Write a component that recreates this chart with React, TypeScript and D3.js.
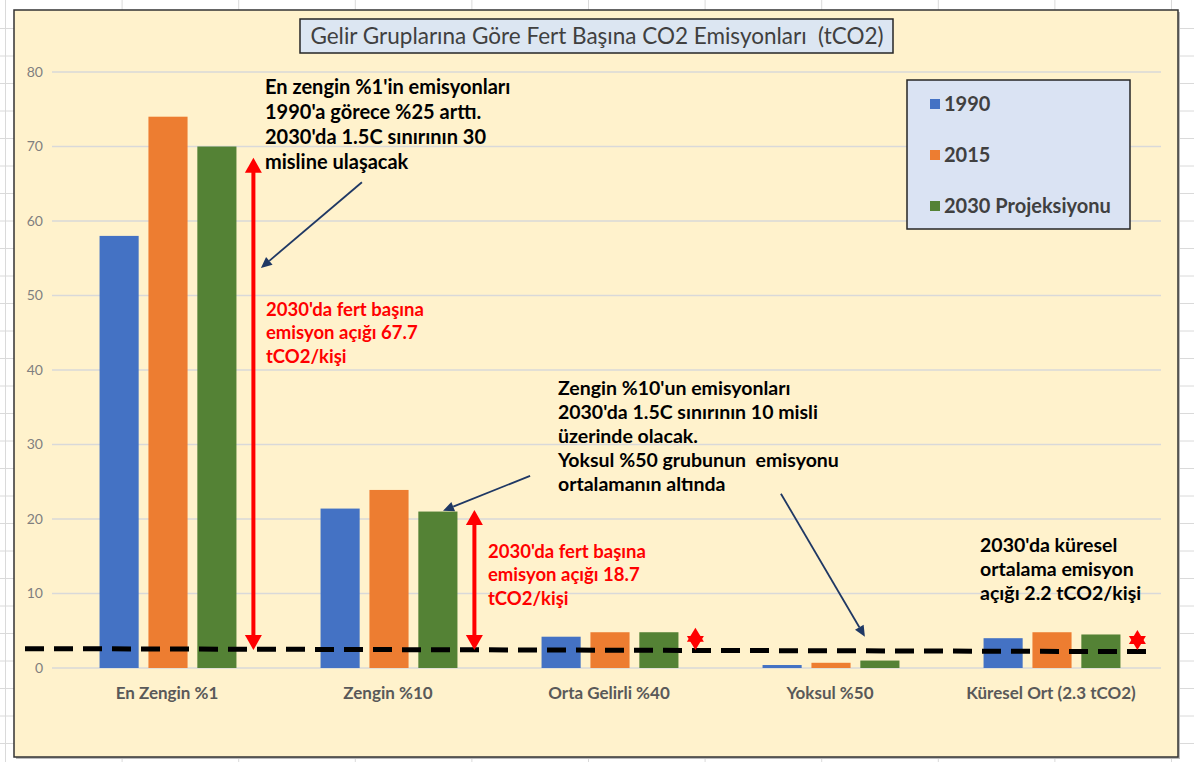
import { useEffect, useRef } from 'react';
import * as d3 from 'd3';

const categories = ['En Zengin %1', 'Zengin %10', 'Orta Gelirli %40', 'Yoksul %50', 'Küresel Ort (2.3 tCO2)'];
const seriesNames = ['1990', '2015', '2030 Projeksiyonu'];
const values1990 = [58, 21.4, 4.2, 0.4, 4.0];
const values2015 = [74, 23.9, 4.8, 0.7, 4.8];
const values2030 = [70, 21, 4.8, 1.0, 4.5];
const yTicks = [0, 10, 20, 30, 40, 50, 60, 70, 80];
const limitValue = 2.3; // 1.5C siniri (kuresel ortalama)

const titleText = 'Gelir Gruplarına Göre Fert Başına CO2 Emisyonları  (tCO2)';
const note1 = ["En zengin %1'in emisyonları", "1990'a görece %25 arttı.", "2030'da 1.5C sınırının 30", 'misline ulaşacak'];
const gapNote1 = ["2030'da fert başına", 'emisyon açığı 67.7', 'tCO2/kişi'];
const gapNote2 = ["2030'da fert başına", 'emisyon açığı 18.7', 'tCO2/kişi'];
const note2 = ["Zengin %10'un emisyonları", "2030'da 1.5C sınırının 10 misli", 'üzerinde olacak.', 'Yoksul %50 grubunun  emisyonu', 'ortalamanın altında'];
const note3 = ["2030'da küresel", 'ortalama emisyon', 'açığı 2.2 tCO2/kişi'];

// gap arrows: category index -> top value of the arrow
const gapArrows = [
	{ cat: 0, top: 68.5 },
	{ cat: 1, top: 21.2 },
	{ cat: 2, top: 5.4 },
	{ cat: 4, top: 5.1 },
];

const colors = ['#4472c4', '#ed7d31', '#548235'];
const font = 'Lato, "Open Sans", sans-serif';

const App = () => {
	const svgRef = useRef<SVGSVGElement>(null);
	const W = 1194;
	const H = 762;

	useEffect(() => {
		document.body.style.margin = '0';
		const svg = d3.select(svgRef.current);
		svg.selectAll('*').remove();

		// spreadsheet background grid
		svg.append('rect').attr('width', W).attr('height', H).attr('fill', '#ffffff');
		const bg = svg.append('g').attr('stroke', '#dadada').attr('stroke-width', 1);
		for (let x = 5.5; x < W; x += 116.6) bg.append('line').attr('x1', x).attr('x2', x).attr('y1', 0).attr('y2', H);
		for (let y = 28.5; y < H; y += 27.5) bg.append('line').attr('x1', 0).attr('x2', W).attr('y1', y).attr('y2', y);

		// chart area
		svg.append('rect').attr('x', 16).attr('y', 12).attr('width', 1164).attr('height', 747).attr('fill', '#bbbbbb');
		svg
			.append('rect')
			.attr('x', 14)
			.attr('y', 10)
			.attr('width', 1164)
			.attr('height', 747)
			.attr('fill', '#fff2cc')
			.attr('stroke', '#333333')
			.attr('stroke-width', 1.5);

		const y = d3.scaleLinear().domain([0, 80]).range([668, 72]);
		const x0 = d3.scaleBand().domain(categories).range([54.5, 1159.5]).padding(0);
		const x1 = d3.scaleBand().domain(seriesNames).range([3, x0.bandwidth() + 3]).paddingInner(0.2).paddingOuter(0.86);
		const xi = d3.scaleLinear().domain([0, categories.length]).range([54.5, 1159.5]);

		// gridlines
		svg
			.append('g')
			.selectAll('line')
			.data(yTicks)
			.enter()
			.append('line')
			.attr('x1', 52)
			.attr('x2', 1161)
			.attr('y1', (d) => y(d))
			.attr('y2', (d) => y(d))
			.attr('stroke', '#d9d9d9')
			.attr('stroke-width', 1.5);

		svg
			.append('g')
			.selectAll('text')
			.data(yTicks)
			.enter()
			.append('text')
			.attr('x', 43)
			.attr('y', (d) => y(d))
			.attr('dy', '0.35em')
			.attr('text-anchor', 'end')
			.attr('font-family', font)
			.attr('font-size', 14)
			.attr('fill', '#7f7f7f')
			.text((d) => d);

		// bars
		const series = [values1990, values2015, values2030];
		series.forEach((vals, si) => {
			svg
				.append('g')
				.attr('fill', colors[si])
				.selectAll('rect')
				.data(vals)
				.enter()
				.append('rect')
				.attr('x', (d, i) => x0(categories[i])! + x1(seriesNames[si])!)
				.attr('y', (d) => y(d))
				.attr('width', x1.bandwidth())
				.attr('height', (d) => y(0) - y(d));
		});

		// category labels
		svg
			.append('g')
			.selectAll('text')
			.data(categories)
			.enter()
			.append('text')
			.attr('x', (d) => x0(d)! + x0.bandwidth() / 2 + 2)
			.attr('y', 699)
			.attr('text-anchor', 'middle')
			.attr('font-family', font)
			.attr('font-size', 17)
			.attr('font-weight', 'bold')
			.attr('fill', '#595959')
			.text((d) => d);

		// limit line
		svg
			.append('line')
			.attr('x1', 25)
			.attr('x2', 1146)
			.attr('y1', y(limitValue + 0.3))
			.attr('y2', y(limitValue - 0.1))
			.attr('stroke', '#000')
			.attr('stroke-width', 5)
			.attr('stroke-dasharray', '19 10');

		// red gap arrows
		const red = '#ff0000';
		gapArrows.forEach((a) => {
			const ax = x0(categories[a.cat])! + x0.bandwidth() * 0.9;
			const yTop = y(a.top);
			const yBot = y(limitValue + 0.1);
			const small = a.cat > 1;
			const hl = small ? 14 : 15;
			const hw = 8.5;
			const g = svg.append('g').attr('fill', red);
			if (!small) {
				g.append('rect')
					.attr('x', ax - 2)
					.attr('y', yTop + hl - 1)
					.attr('width', 4)
					.attr('height', yBot - yTop - 2 * hl + 2);
			}
			g.append('path').attr('d', `M${ax},${yTop} L${ax + hw},${yTop + hl} L${ax - hw},${yTop + hl} Z`);
			g.append('path').attr('d', `M${ax},${yBot} L${ax + hw},${yBot - hl} L${ax - hw},${yBot - hl} Z`);
		});

		// navy pointer arrows (category index, value)
		const navy = '#1f3864';
		const pointers = [
			{ from: [1.391, 65.2], to: [0.934, 53.7] },
			{ from: [2.152, 25.8], to: [1.758, 21.1] },
			{ from: [3.287, 23.4], to: [3.667, 4.2] },
		];
		pointers.forEach((p) => {
			const sx = xi(p.from[0]);
			const sy = y(p.from[1]);
			const ex = xi(p.to[0]);
			const ey = y(p.to[1]);
			const ang = Math.atan2(ey - sy, ex - sx);
			const hl = 11;
			const hw = 5;
			const bx = ex - hl * Math.cos(ang);
			const by = ey - hl * Math.sin(ang);
			svg
				.append('line')
				.attr('x1', sx)
				.attr('y1', sy)
				.attr('x2', bx)
				.attr('y2', by)
				.attr('stroke', navy)
				.attr('stroke-width', 1.8);
			const px = -Math.sin(ang) * hw;
			const py = Math.cos(ang) * hw;
			svg
				.append('path')
				.attr('d', `M${ex},${ey} L${bx + px},${by + py} L${bx - px},${by - py} Z`)
				.attr('fill', navy);
		});

		// annotation text blocks
		const block = (lines: string[], xIdx: number, v: number, lh: number, color: string, size: number) => {
			const t = svg
				.append('text')
				.attr('font-family', font)
				.attr('font-size', size)
				.attr('font-weight', 'bold')
				.attr('fill', color)
				.style('white-space', 'pre');
			lines.forEach((l, i) => {
				t.append('tspan')
					.attr('x', xi(xIdx))
					.attr('y', y(v) + i * lh)
					.text(l);
			});
		};
		block(note1, 0.9525, 77.05, 25, '#000', 20);
		block(gapNote1, 0.957, 47.25, 23.5, red, 18.5);
		block(gapNote2, 1.9615, 14.77, 23.5, red, 18.5);
		block(note2, 2.278, 36.64, 24, '#000', 19.5);
		block(note3, 4.188, 15.57, 24, '#000', 19.5);

		// title
		svg
			.append('rect')
			.attr('x', 300)
			.attr('y', 19)
			.attr('width', 593)
			.attr('height', 34)
			.attr('fill', '#dce6f2')
			.attr('stroke', '#262626')
			.attr('stroke-width', 1.5);
		svg
			.append('text')
			.attr('x', 597)
			.attr('y', 44)
			.attr('text-anchor', 'middle')
			.attr('font-family', font)
			.attr('font-size', 22.5)
			.attr('fill', '#404040')
			.style('white-space', 'pre')
			.text(titleText);

		// legend
		svg
			.append('rect')
			.attr('x', 907)
			.attr('y', 80)
			.attr('width', 223)
			.attr('height', 149)
			.attr('fill', '#dae3f3')
			.attr('stroke', '#262626')
			.attr('stroke-width', 1.5);
		const lg = svg
			.append('g')
			.selectAll('g')
			.data(seriesNames)
			.enter()
			.append('g')
			.attr('transform', (d, i) => `translate(930, ${104 + i * 51})`);
		lg.append('rect').attr('x', 0).attr('y', -5).attr('width', 10).attr('height', 10).attr('fill', (d, i) => colors[i]);
		lg.append('text')
			.attr('x', 14)
			.attr('dy', '0.35em')
			.attr('font-family', font)
			.attr('font-size', 20)
			.attr('font-weight', 'bold')
			.attr('fill', '#404040')
			.text((d) => d);
	}, []);

	return <svg ref={svgRef} width={W} height={H} style={{ position: 'absolute', left: 0, top: 0 }} />;
};

export default App;
